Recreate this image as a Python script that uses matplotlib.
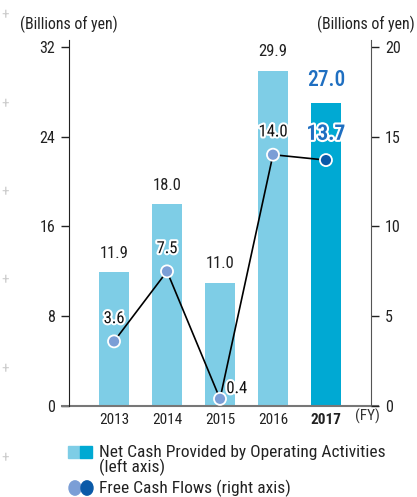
import matplotlib.pyplot as plt
import matplotlib.patheffects as pe
from matplotlib.font_manager import fontManager

names = set(f.name for f in fontManager.ttflist)
fam = 'Roboto'
for cand in ['Roboto Condensed', 'Liberation Sans Narrow', 'Open Sans Condensed', 'Roboto']:
    if cand in names:
        fam = cand
        break
plt.rcParams['font.family'] = [fam, 'DejaVu Sans']

# data
years = ['2013', '2014', '2015', '2016', '2017']
op_cash = [11.9, 18.0, 11.0, 29.9, 27.0]     # left axis
free_cf = [3.6, 7.5, 0.4, 14.0, 13.7]       # right axis
left_ticks = [8, 16, 24, 32]
right_ticks = [5, 10, 15, 20]

light_bar = '#7ecde6'
dark_bar = '#00a9d3'
light_dot = '#7b9ed6'
dark_dot = '#0a5aa8'
hi_text = '#1f6fc1'

fig = plt.figure(figsize=(4.17, 4.97), dpi=100)
ax = fig.add_axes([69/417, 1-406/497, (371-69)/417, (406-40)/497])
ax2 = ax.twinx()

x = list(range(len(years)))
cols = [light_bar]*4 + [dark_bar]
ax.bar(x, op_cash, width=0.55, color=cols, zorder=1)
ymax = 32*366/359
ax.set_ylim(0, ymax)
ax.set_xlim(-0.85, 4.85)
ax2.set_ylim(0, ymax*20/32)

for i, v in enumerate(op_cash):
    if i == 4:
        ax.text(i, v+1.1, f'{v:.1f}', ha='center', va='bottom', fontsize=15.5,
                color=hi_text, fontweight='medium')
    else:
        ax.text(i, v+1.0, f'{v:.1f}', ha='center', va='bottom', fontsize=12,
                color='#222222')

ax2.plot(x, free_cf, color='black', lw=1.2, zorder=3)
dcols = [light_dot]*4 + [dark_dot]
ax2.scatter(x, free_cf, s=75, c=dcols, edgecolors='white', linewidths=1.3, zorder=4)
halo = [pe.withStroke(linewidth=3, foreground='white')]
for i, v in enumerate(free_cf):
    if i == 4:
        ax2.text(i, v+0.85, f'{v:.1f}', ha='center', va='bottom', fontsize=15.5,
                 color=hi_text, fontweight='bold', path_effects=halo, zorder=5)
    elif i == 2:
        ax2.text(i+0.12, v+0.15, f'{v:.1f}', ha='left', va='bottom', fontsize=12,
                 color='#111111', path_effects=halo, zorder=5)
    else:
        ax2.text(i, v+0.85, f'{v:.1f}', ha='center', va='bottom', fontsize=12,
                 color='#111111', path_effects=halo, zorder=5)

for a in (ax, ax2):
    a.spines['top'].set_visible(False)
    a.spines['bottom'].set_visible(False)
ax.spines['right'].set_visible(False)
ax2.spines['left'].set_visible(False)
ax.spines['left'].set_color('#222222')
ax2.spines['right'].set_color('#555555')

ax.set_yticks([0] + left_ticks)
ax.tick_params(axis='y', direction='out', length=6, width=1, labelsize=11.5, pad=4,
               colors='#222222')
ax2.set_yticks([0] + right_ticks)
ax2.tick_params(axis='y', direction='out', length=6, width=1, labelsize=11.5, pad=4,
                colors='#222222')
ax.set_xticks(x)
ax.set_xticklabels(years)
ax.tick_params(axis='x', length=0, labelsize=11, pad=5, colors='#222222')
ax.get_xticklabels()[-1].set_fontweight('bold')

# baseline
ax.plot([-0.98, 4.98], [0, 0], color='#777777', lw=1.5, clip_on=False, zorder=2)

fig.text(20/417, 1-24/497, '(Billions of yen)', ha='left', va='center', fontsize=11.4, color='#222222')
fig.text(415/417, 1-24/497, '(Billions of yen)', ha='right', va='center', fontsize=11.4, color='#222222')
fig.text(367/417, 1-416/497, '(FY)', ha='center', va='center', fontsize=11, color='#333333')

# crop marks
for yy in [15, 104, 192, 280, 369, 458]:
    fig.text(5/417, 1-yy/497, '+', ha='center', va='center', fontsize=11, color='#cccccc')

# legend
fig.patches.append(plt.Rectangle((68/417, 1-458/497), 12/417, 12/497, color=light_bar,
                                 transform=fig.transFigure, figure=fig))
fig.patches.append(plt.Rectangle((80/417, 1-458/497), 12/417, 12/497, color=dark_bar,
                                 transform=fig.transFigure, figure=fig))
fig.text(99/417, 1-452/497, 'Net Cash Provided by Operating Activities', ha='left',
         va='center', fontsize=12.5, color='#222222')
fig.text(99/417, 1-467/497, '(left axis)', ha='left', va='center', fontsize=12.5, color='#222222')
fig.patches.append(plt.Circle((75/417, 1-488/497), 6/417, color=light_dot,
                              transform=fig.transFigure, figure=fig))
fig.patches.append(plt.Circle((87/417, 1-488/497), 6/417, color=dark_dot,
                              transform=fig.transFigure, figure=fig))
fig.text(99/417, 1-488/497, 'Free Cash Flows (right axis)', ha='left', va='center',
         fontsize=12.5, color='#222222')

fig.savefig('out.png', dpi=100)
